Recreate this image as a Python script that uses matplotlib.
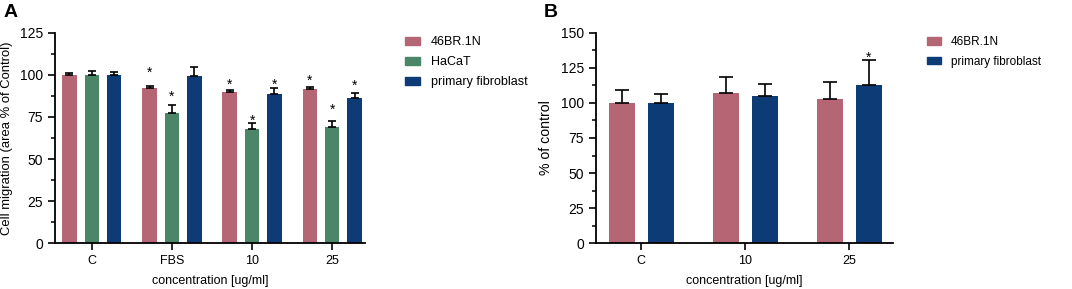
import numpy as np
import matplotlib.pyplot as plt
from matplotlib.ticker import MultipleLocator
from matplotlib.patches import Patch

plt.rcParams['font.family'] = ['Liberation Sans', 'DejaVu Sans']

# panel A data
groups_a = ['C', 'FBS', '10', '25']
br_a = [100, 92, 90, 91.5]
br_a_err = [1.2, 1.5, 1.0, 1.2]
hacat_a = [100, 77.5, 68, 69]
hacat_a_err = [2.5, 4.5, 3.5, 3.5]
fib_a = [100, 99.5, 88.5, 86.5]
fib_a_err = [1.5, 5.5, 3.5, 3.0]
# height of the significance star (None = no star)
br_a_star = [None, 103.5, 96.5, 99]
hacat_a_star = [None, 89.5, 75, 81.5]
fib_a_star = [None, None, 96.5, 96]

# panel B data
groups_b = ['C', '10', '25']
br_b = [100, 107, 103]
br_b_err = [9, 11.5, 12]
fib_b = [100, 105, 112.5]
fib_b_err = [6.5, 8.5, 18.5]
br_b_star = [None, None, None]
fib_b_star = [None, None, 135.5]

pink = '#b56675'
green = '#4a8667'
blue = '#0c3b76'

fig = plt.figure(figsize=(10.72, 2.89), dpi=100)
axA = fig.add_axes([0.0513, 0.159, 0.2892, 0.727])
axB = fig.add_axes([0.556, 0.159, 0.277, 0.727])


def draw_bars(ax, x, vals, errs, stars, color, w, cap):
    ax.bar(x, vals, width=w, color=color, zorder=2)
    ax.errorbar(x, vals, yerr=[np.zeros(len(vals)), errs], fmt='none',
                ecolor='black', elinewidth=1.2, capsize=cap, capthick=1.2, zorder=3)
    for xi, s in zip(x, stars):
        if s is not None:
            ax.annotate('*', (xi, s), xytext=(0, -5.8), textcoords='offset points',
                        ha='center', va='baseline', fontsize=10)


def style(ax, ymax, label, lx, lsize):
    ax.set_ylim(0, ymax)
    ax.yaxis.set_major_locator(MultipleLocator(25))
    ax.yaxis.set_minor_locator(MultipleLocator(12.5))
    for s in ['top', 'right']:
        ax.spines[s].set_visible(False)
    for s in ['left', 'bottom']:
        ax.spines[s].set_linewidth(1.3)
    ax.tick_params(axis='both', which='major', length=5, width=1.2)
    ax.tick_params(axis='y', labelsize=10)
    ax.tick_params(axis='x', labelsize=9)
    ax.tick_params(axis='y', which='minor', length=3, width=1.1)
    ax.set_ylabel(label, fontsize=lsize)
    ax.yaxis.set_label_coords(lx, 0.5)
    ax.set_xlabel('concentration [ug/ml]', fontsize=9)
    ax.xaxis.set_label_coords(0.5, -0.15)


def add_legend(ax, handles, x, size):
    ax.legend(handles=handles, loc='upper left', bbox_to_anchor=(x, 0.985),
              frameon=False, fontsize=size, borderaxespad=0, borderpad=0,
              handlelength=1.2, handleheight=0.6, handletextpad=0.85,
              labelspacing=0.65)


# panel A
xa = np.arange(len(groups_a))
wa = 0.18
pa = 0.28
draw_bars(axA, xa - pa, br_a, br_a_err, br_a_star, pink, wa, 2.6)
draw_bars(axA, xa, hacat_a, hacat_a_err, hacat_a_star, green, wa, 2.6)
draw_bars(axA, xa + pa, fib_a, fib_a_err, fib_a_star, blue, wa, 2.6)
axA.set_xticks(xa)
axA.set_xticklabels(groups_a)
axA.set_xlim(-0.46, 3.41)
style(axA, 125, 'Cell migration (area % of Control)', -0.135, 9.4)
add_legend(axA, [Patch(color=pink, label='46BR.1N'),
                 Patch(color=green, label='HaCaT'),
                 Patch(color=blue, label='primary fibroblast')], 1.129, 9)
fig.text(0.003, 0.985, 'A', fontsize=14, fontweight='bold', va='top')

# panel B
xb = np.arange(len(groups_b))
wb = 0.25
pb = 0.1875
draw_bars(axB, xb - pb, br_b, br_b_err, br_b_star, pink, wb, 4.7)
draw_bars(axB, xb + pb, fib_b, fib_b_err, fib_b_star, blue, wb, 4.7)
axB.set_xticks(xb)
axB.set_xticklabels(groups_b)
axB.set_xlim(-0.433, 2.42)
style(axB, 150, '% of control', -0.145, 10.2)
add_legend(axB, [Patch(color=pink, label='46BR.1N'),
                 Patch(color=blue, label='primary fibroblast')], 1.114, 8.5)
fig.text(0.507, 0.985, 'B', fontsize=14, fontweight='bold', va='top')

fig.savefig('out.png', dpi=100)
